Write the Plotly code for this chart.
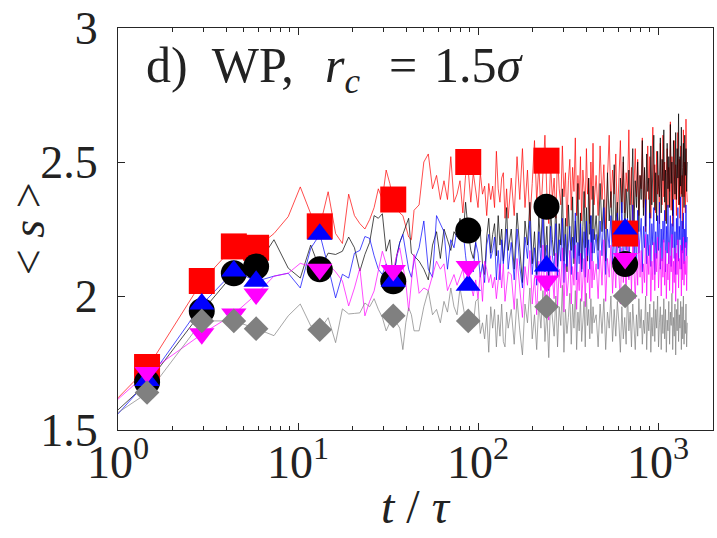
import plotly.graph_objects as go

# ---------------- data ----------------
dt = 1.47  # sampling step of the simulation output (t / tau)
K = list(range(1, 31)) + list(range(32, 101, 2)) + list(range(104, 301, 4)) + list(range(308, 989, 8))
t_line = [1.0] + [dt * k for k in K]

red_start = [1.62]
red_A = [1.735, 2.056, 2.185, 2.18, 2.233, 2.296, 2.407, 2.307, 2.26, 2.389, 2.233, 2.196, 2.38, 2.30, 2.27,
         2.25, 2.285, 2.33, 2.40, 2.36, 2.47, 2.42, 2.36, 2.34, 2.31, 2.30, 2.26, 2.22, 2.21, 2.32]
red_B = [2.34, 2.50, 2.53, 2.40, 2.45, 2.36, 2.43, 2.36, 2.52, 2.35, 2.38, 2.43, 2.31, 2.45, 2.47, 2.35, 2.46,
         2.39, 2.33, 2.46, 2.38, 2.41, 2.30, 2.42, 2.36, 2.41, 2.33, 2.54, 2.40, 2.35, 2.44, 2.46, 2.29, 2.40, 2.29]
red_C = [2.44, 2.30, 2.52, 2.36, 2.55, 2.33, 2.47, 2.28, 2.42, 2.58,
         2.35, 2.49, 2.31, 2.45, 2.60, 2.38, 2.27, 2.50, 2.36, 2.44,
         2.29, 2.53, 2.40, 2.34, 2.56, 2.37, 2.46, 2.26, 2.43, 2.51,
         2.32, 2.48, 2.39, 2.59, 2.30, 2.45, 2.36, 2.52, 2.28, 2.47,
         2.41, 2.33, 2.55, 2.38, 2.44, 2.27, 2.50, 2.36, 2.57, 2.34]
red_D = [2.45, 2.30, 2.56, 2.36, 2.49, 2.25, 2.44, 2.60, 2.33, 2.47,
         2.38, 2.53, 2.28, 2.42, 2.58, 2.35, 2.50, 2.31, 2.46, 2.39,
         2.62, 2.34, 2.48, 2.27, 2.44, 2.55, 2.37, 2.51, 2.30, 2.45,
         2.40, 2.59, 2.33, 2.47, 2.24, 2.43, 2.56, 2.36, 2.52, 2.29,
         2.46, 2.63, 2.35, 2.49, 2.31, 2.54, 2.38, 2.45, 2.27, 2.57,
         2.41, 2.34, 2.60, 2.37, 2.50, 2.28, 2.46, 2.55, 2.33, 2.48,
         2.39, 2.65, 2.32, 2.52, 2.26, 2.44, 2.58, 2.36, 2.49, 2.30,
         2.47, 2.61, 2.34, 2.51, 2.29, 2.56, 2.38, 2.45, 2.25, 2.62,
         2.37, 2.50, 2.31, 2.66, 2.40, 2.35]

black_start = [1.575]
black_A = [1.678, 1.944, 2.085, 2.11, 2.21, 2.104, 2.067, 2.19, 2.10, 2.16, 2.155, 2.167, 2.22, 2.18, 2.093,
           2.155, 2.20, 2.30, 2.29, 2.307, 2.167, 2.21, 2.055, 2.15, 2.20, 2.23, 2.26, 2.29, 2.16, 2.15]
black_B = [2.13, 2.10, 2.06, 2.19, 2.24, 2.14, 2.25, 2.21, 2.17, 2.24, 2.22, 2.29, 2.21, 2.35, 2.24, 2.17, 2.14,
           2.20, 2.26, 2.24, 2.12, 2.08, 2.22, 2.29, 2.16, 2.23, 2.27, 2.15, 2.30, 2.19, 2.25, 2.13, 2.21, 2.33, 2.17]
black_C = [2.25, 2.10, 2.31, 2.16, 2.05, 2.28, 2.19, 2.35, 2.12, 2.24,
           2.08, 2.30, 2.18, 2.38, 2.14, 2.26, 2.06, 2.33, 2.21, 2.15,
           2.36, 2.11, 2.27, 2.19, 2.40, 2.13, 2.29, 2.09, 2.34, 2.22,
           2.17, 2.37, 2.12, 2.28, 2.20, 2.42, 2.15, 2.31, 2.10, 2.26,
           2.39, 2.18, 2.33, 2.13, 2.44, 2.23, 2.30, 2.16, 2.41, 2.21]
black_D = [2.30, 2.17, 2.42, 2.24, 2.36, 2.13, 2.46, 2.28, 2.39, 2.20,
           2.49, 2.26, 2.35, 2.18, 2.44, 2.31, 2.52, 2.23, 2.40, 2.29,
           2.47, 2.21, 2.38, 2.55, 2.27, 2.43, 2.33, 2.50, 2.24, 2.45,
           2.36, 2.58, 2.30, 2.48, 2.26, 2.53, 2.39, 2.44, 2.29, 2.56,
           2.34, 2.49, 2.60, 2.32, 2.46, 2.28, 2.54, 2.41, 2.37, 2.59,
           2.31, 2.51, 2.43, 2.62, 2.35, 2.47, 2.27, 2.57, 2.40, 2.52,
           2.33, 2.64, 2.42, 2.50, 2.30, 2.58, 2.45, 2.38, 2.61, 2.36,
           2.55, 2.44, 2.68, 2.34, 2.52, 2.41, 2.63, 2.37, 2.48, 2.57,
           2.33, 2.60, 2.45, 2.55, 2.39, 2.50]

blue_start = [1.56]
blue_A = [1.685, 1.97, 2.093, 2.055, 2.074, 2.085, 2.03, 2.178, 2.23, 2.11, 1.993, 2.081, 2.067, 2.16, 2.17,
          2.222, 2.215, 2.15, 2.10, 2.08, 2.12, 2.09, 2.06, 2.14, 2.20, 2.23, 2.16, 2.10, 2.07, 2.13]
blue_B = [2.18, 2.28, 2.10, 2.07, 2.30, 2.27, 2.24, 2.10, 2.21, 2.18, 2.25, 2.22, 2.25, 2.15, 2.07, 2.13, 2.09,
          2.20, 2.16, 2.07, 2.12, 2.05, 2.19, 2.23, 2.14, 2.17, 2.22, 2.06, 2.17, 2.06, 2.21, 2.12, 2.18, 2.25, 2.10]
blue_C = [2.20, 2.06, 2.25, 2.11, 2.03, 2.22, 2.14, 2.28, 2.08, 2.18,
          2.04, 2.24, 2.12, 2.30, 2.09, 2.19, 2.02, 2.26, 2.15, 2.10,
          2.27, 2.07, 2.21, 2.13, 2.29, 2.05, 2.23, 2.11, 2.17, 2.26,
          2.08, 2.22, 2.14, 2.31, 2.06, 2.20, 2.12, 2.27, 2.09, 2.18,
          2.24, 2.07, 2.28, 2.15, 2.21, 2.10, 2.30, 2.13, 2.25, 2.16]
blue_D = [2.23, 2.10, 2.28, 2.15, 2.33, 2.08, 2.25, 2.18, 2.30, 2.12,
          2.26, 2.09, 2.31, 2.19, 2.14, 2.35, 2.11, 2.24, 2.17, 2.29,
          2.07, 2.27, 2.20, 2.34, 2.13, 2.25, 2.10, 2.32, 2.16, 2.22,
          2.29, 2.09, 2.26, 2.18, 2.36, 2.12, 2.23, 2.15, 2.31, 2.11,
          2.27, 2.19, 2.33, 2.08, 2.24, 2.14, 2.30, 2.17, 2.35, 2.10,
          2.25, 2.13, 2.28, 2.20, 2.32, 2.09, 2.26, 2.16, 2.34, 2.12,
          2.22, 2.30, 2.11, 2.27, 2.18, 2.36, 2.14, 2.24, 2.08, 2.29,
          2.19, 2.33, 2.13, 2.26, 2.21, 2.37, 2.10, 2.28, 2.16, 2.31,
          2.12, 2.25, 2.18, 2.34, 2.15, 2.22]

magenta_start = [1.615]
magenta_A = [1.715, 1.859, 1.933, 2.007, 2.074, 2.085, 2.122, 2.11, 2.10, 2.12, 2.09, 2.056, 1.963, 2.03, 2.104,
             1.926, 1.98, 2.019, 2.10, 2.167, 2.12, 2.10, 2.095, 2.15, 2.18, 2.12, 2.05, 1.944, 2.06, 2.155]
magenta_B = [2.01, 2.03, 2.02, 2.08, 2.13, 2.10, 2.12, 2.02, 2.05, 2.08, 2.04, 2.07, 2.10, 2.03, 2.11, 2.04, 2.00,
             2.06, 1.99, 2.09, 1.98, 2.13, 2.10, 2.05, 2.08, 2.03, 2.07, 1.99, 2.06, 2.12, 2.03, 2.12, 1.98, 2.05, 2.09]
magenta_C = [2.08, 1.95, 2.14, 2.01, 1.92, 2.11, 2.04, 2.17, 1.97, 2.07,
             1.93, 2.13, 2.02, 2.19, 1.98, 2.09, 1.91, 2.15, 2.05, 1.99,
             2.16, 1.96, 2.10, 2.03, 2.18, 1.94, 2.12, 2.00, 2.06, 2.17,
             1.97, 2.11, 2.04, 2.19, 1.95, 2.09, 2.02, 2.16, 1.98, 2.08,
             2.14, 1.96, 2.18, 2.05, 2.10, 1.99, 2.20, 2.03, 2.13, 2.06]
magenta_D = [2.12, 1.99, 2.17, 2.04, 2.21, 1.98, 2.14, 2.07, 2.19, 2.01,
             2.15, 2.03, 2.20, 2.08, 1.97, 2.18, 2.05, 2.13, 2.00, 2.22,
             2.06, 2.16, 2.02, 2.19, 2.09, 1.99, 2.14, 2.04, 2.21, 2.07,
             2.17, 2.01, 2.12, 2.05, 2.23, 2.00, 2.15, 2.08, 2.19, 1.98,
             2.13, 2.06, 2.20, 2.02, 2.16, 2.09, 2.22, 2.03, 2.11, 2.18,
             2.00, 2.14, 2.07, 2.21, 2.04, 2.17, 1.99, 2.12, 2.06, 2.20,
             2.02, 2.15, 2.09, 2.23, 2.01, 2.13, 2.05, 2.18, 1.98, 2.16,
             2.08, 2.21, 2.03, 2.14, 2.10, 2.19, 2.00, 2.17, 2.06, 2.22,
             2.04, 2.13, 2.08, 2.20, 2.02, 2.15]

gray_start = [1.565]
gray_A = [1.64, 1.907, 1.907, 1.878, 1.852, 1.926, 1.97, 1.889, 1.874, 1.919, 1.826, 1.952, 1.933, 1.935, 1.937,
          1.974, 1.96, 1.99, 1.95, 1.92, 1.87, 1.90, 1.926, 1.90, 1.88, 1.80, 1.90, 1.956, 1.93, 1.87]
gray_B = [1.87, 1.96, 2.02, 1.93, 1.95, 1.90, 1.98, 1.94, 2.03, 1.96, 1.93, 2.03, 1.96, 1.91, 1.92, 1.94, 1.89,
          1.98, 1.99, 1.86, 1.90, 1.84, 1.93, 1.79, 1.96, 1.88, 1.95, 1.81, 1.93, 1.85, 1.97, 1.83, 1.81, 1.94, 1.88]
gray_C = [1.95, 1.82, 1.99, 1.87, 1.78, 1.97, 1.90, 2.03, 1.84, 1.93,
          1.80, 1.98, 1.88, 2.02, 1.83, 1.94, 1.77, 1.99, 1.91, 1.85,
          2.00, 1.81, 1.96, 1.89, 2.04, 1.79, 1.95, 1.86, 1.92, 2.01,
          1.82, 1.97, 1.88, 2.02, 1.80, 1.94, 1.87, 1.99, 1.83, 1.93,
          1.98, 1.81, 2.01, 1.89, 1.95, 1.84, 1.99, 1.86, 1.96, 1.90]
gray_D = [1.93, 1.81, 1.97, 1.86, 1.99, 1.80, 1.94, 1.88, 2.00, 1.83,
          1.95, 1.85, 1.98, 1.90, 1.79, 1.96, 1.84, 1.92, 1.82, 2.01,
          1.87, 1.94, 1.81, 1.97, 1.89, 1.80, 1.93, 1.85, 1.99, 1.88,
          1.95, 1.82, 1.91, 1.86, 2.00, 1.80, 1.94, 1.87, 1.97, 1.79,
          1.92, 1.85, 1.98, 1.83, 1.95, 1.88, 2.00, 1.81, 1.90, 1.96,
          1.80, 1.93, 1.86, 1.99, 1.84, 1.95, 1.79, 1.91, 1.87, 1.98,
          1.82, 1.94, 1.89, 2.01, 1.80, 1.92, 1.85, 1.97, 1.78, 1.95,
          1.87, 1.99, 1.83, 1.93, 1.88, 1.98, 1.80, 1.96, 1.84, 2.00,
          1.82, 1.91, 1.86, 1.97, 1.81, 1.90]

# markers (sparse time snapshots)
t_mark = [1.45, 2.92, 4.4, 5.85, 13.2, 33.8, 88.2, 240, 656]
red_mark = [1.735, 2.056, 2.185, 2.18, 2.26, 2.36, 2.50, 2.505, 2.233]
black_mark = [1.678, 1.944, 2.085, 2.11, 2.10, 2.055, 2.244, 2.333, 2.119]
blue_mark = [1.685, 1.97, 2.093, 2.055, 2.23, 2.055, 2.04, 2.112, 2.25]
magenta_mark = [1.715, 1.859, 1.933, 2.007, 2.10, 2.095, 2.11, 2.056, 2.14]
gray_mark = [1.64, 1.907, 1.907, 1.878, 1.874, 1.926, 1.907, 1.96, 2.00]

x_tickvals = [1, 10, 100, 1000]
x_ticktext = ["10<sup>0</sup>", "10<sup>1</sup>", "10<sup>2</sup>", "10<sup>3</sup>"]
y_tickvals = [1.5, 2, 2.5, 3]
y_ticktext = ["1.5", "2", "2.5", "3"]

# ---------------- figure ----------------
series = [
    ("#ff0000", red_start + red_A + red_B + red_C + red_D, red_mark, "square", 26),
    ("#000000", black_start + black_A + black_B + black_C + black_D, black_mark, "circle", 26),
    ("#0000ff", blue_start + blue_A + blue_B + blue_C + blue_D, blue_mark, "triangle-up", 22),
    ("#ff00ff", magenta_start + magenta_A + magenta_B + magenta_C + magenta_D, magenta_mark, "triangle-down", 22),
    ("#808080", gray_start + gray_A + gray_B + gray_C + gray_D, gray_mark, "diamond", 19),
]

fig = go.Figure()
for color, yl, ym, sym, sz in series:
    assert len(yl) == len(t_line), (len(yl), len(t_line))
    fig.add_trace(go.Scatter(x=t_line, y=yl, mode="lines",
                             line=dict(color=color, width=0.7), hoverinfo="skip"))
for color, yl, ym, sym, sz in series:
    fig.add_trace(go.Scatter(x=t_mark, y=ym, mode="markers",
                             marker=dict(symbol=sym, size=sz, color=color, line=dict(width=0))))

FONT = "Liberation Serif"
TXT = "#222222"
axcol = "#262626"
minor_x = [v * m for m in (1, 10, 100, 1000) for v in range(2, 10) if v * m < 2020]

fig.update_layout(
    width=717, height=538,
    margin=dict(l=118, r=3, t=25, b=108),
    plot_bgcolor="white", paper_bgcolor="white",
    showlegend=False,
    font=dict(family=FONT, color=TXT),
    xaxis=dict(type="log", range=[0, 3.305], tickvals=x_tickvals, ticktext=x_ticktext,
               ticks="inside", ticklen=7, tickcolor=axcol, tickwidth=1,
               showline=True, linecolor=axcol, linewidth=1, mirror="ticks",
               showgrid=False, zeroline=False, ticklabelstandoff=-8,
               tickfont=dict(family=FONT, size=46, color=TXT),
               minor=dict(tickvals=minor_x, ticks="inside", ticklen=4, tickcolor=axcol, showgrid=False)),
    yaxis=dict(range=[1.5, 3], tickvals=y_tickvals, ticktext=y_ticktext,
               ticks="inside", ticklen=7, tickcolor=axcol, tickwidth=1,
               showline=True, linecolor=axcol, linewidth=1, mirror="ticks",
               showgrid=False, zeroline=False, ticklabelstandoff=10,
               tickfont=dict(family=FONT, size=46, color=TXT)),
)

title_font = dict(family=FONT, size=50, color=TXT)
title_parts = [("d)&nbsp; WP,", 0.043), ("<i>r</i><sub><i>c</i></sub>", 0.345),
               ("=", 0.452), ("1.5<i>σ</i>", 0.528)]
for txt, xp in title_parts:
    fig.add_annotation(text=txt, xref="paper", yref="paper", x=xp, y=0.983,
                       xanchor="left", yanchor="top", showarrow=False, font=title_font)

fig.add_annotation(text="&lt; <i>s</i> &gt;", xref="paper", yref="paper",
                   x=(28 - 118) / 596, y=0.5, xanchor="center", yanchor="middle",
                   textangle=-90, showarrow=False, font=dict(family=FONT, size=46, color=TXT))
fig.add_annotation(text="<i>t</i> / <i>τ</i>", xref="paper", yref="paper",
                   x=0.5, y=(430 - 507) / 405, xanchor="center", yanchor="middle",
                   showarrow=False, font=dict(family=FONT, size=48, color=TXT))

fig.write_html("out.html")
